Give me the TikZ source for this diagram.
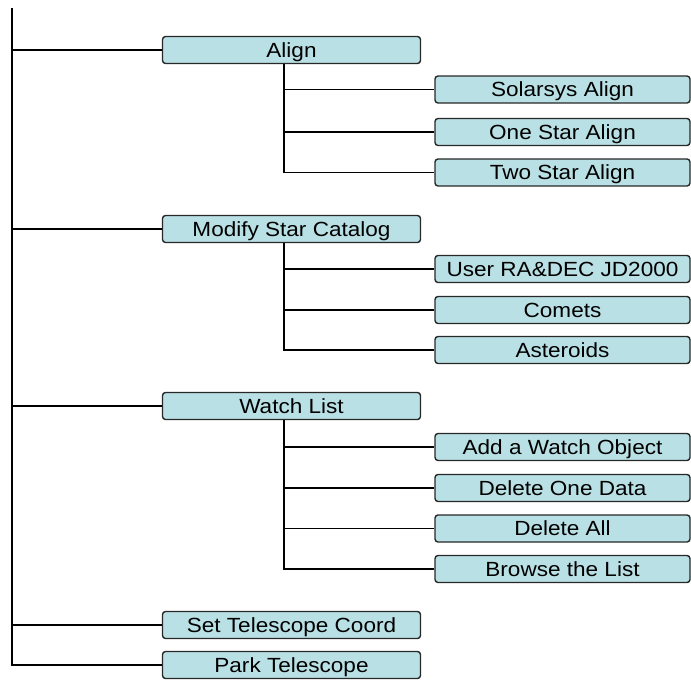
\documentclass[tikz,border=0pt]{standalone}
\usepackage{fontspec}
\setmainfont{Liberation Sans}[FakeStretch=1.1]
\usepackage{tikz}
\usetikzlibrary{positioning}
\definecolor{menufill}{RGB}{185,224,228}
\definecolor{menuline}{RGB}{40,40,40}

\begin{document}
\begin{tikzpicture}[x=1pt,y=-1pt,line width=1.4pt,
  menu/.style={draw=menuline,fill=menufill,rounded corners=3pt,inner sep=0pt,
    minimum height=27pt,text height=18pt,text depth=4pt,font=\fontsize{20.5}{22}\selectfont},
  topitem/.style={menu,minimum width=258pt},
  subitem/.style={menu,minimum width=255pt}]
  \useasboundingbox (0,0) rectangle (691,681);
  % main menu items
  \node[topitem] (align) at (291.5,50) {Align};
  \node[topitem] (catalog) at (291.5,229) {Modify Star Catalog};
  \node[topitem] (watch) at (291.5,406) {Watch List};
  \node[topitem] (coord) at (291.5,625) {Set Telescope Coord};
  \node[topitem] (park) at (291.5,665) {Park Telescope};
  % sub menu items
  \node[subitem] (solarsys) at (562.5,89.5) {Solarsys Align};
  \node[subitem] (onestar) at (562.5,132) {One Star Align};
  \node[subitem] (twostar) at (562.5,172.5) {Two Star Align};
  \node[subitem] (userradec) at (562.5,269) {User RA\&DEC JD2000};
  \node[subitem] (comets) at (562.5,310) {Comets};
  \node[subitem] (asteroids) at (562.5,350) {Asteroids};
  \node[subitem] (addobj) at (562.5,447) {Add a Watch Object};
  \node[subitem] (delone) at (562.5,488) {Delete One Data};
  \node[subitem] (delall) at (562.5,528.5) {Delete All};
  \node[subitem] (browse) at (562.5,569) {Browse the List};
  % trunk
  \coordinate (top) at (12,8);
  \draw (top) |- (park.west);
  \foreach \n in {align,catalog,watch,coord}
    \draw (top |- \n.west) -- (\n.west);
  % branches
  \draw (align.south west) ++(122,0) coordinate (b1) |- (twostar.west);
  \foreach \n in {solarsys,onestar}
    \draw (b1 |- \n.west) -- (\n.west);
  \draw (catalog.south west) ++(122,0) coordinate (b2) |- (asteroids.west);
  \foreach \n in {userradec,comets}
    \draw (b2 |- \n.west) -- (\n.west);
  \draw (watch.south west) ++(122,0) coordinate (b3) |- (browse.west);
  \foreach \n in {addobj,delone,delall}
    \draw (b3 |- \n.west) -- (\n.west);
\end{tikzpicture}
\end{document}
